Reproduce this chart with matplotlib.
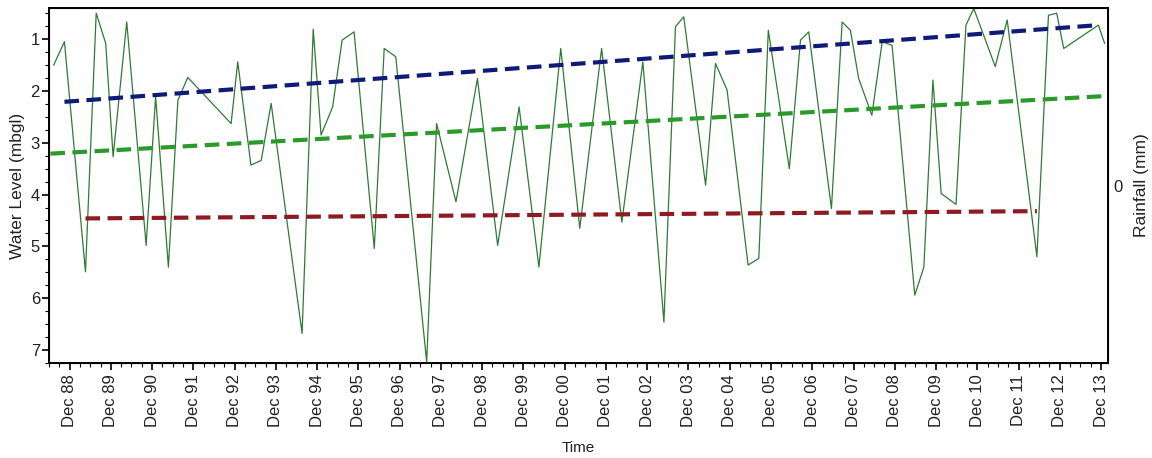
import matplotlib
matplotlib.use("Agg")
import matplotlib.pyplot as plt
import numpy as np

plt.rcParams['font.family'] = ['Liberation Sans', 'DejaVu Sans']

# water level readings (decimal year, metres below ground level)
years = [1988.53, 1988.79, 1989.30, 1989.56, 1989.79, 1989.97, 1990.30, 1990.77,
         1991.00, 1991.31, 1991.54, 1991.78, 1992.83, 1992.99, 1993.31, 1993.56,
         1993.80, 1994.55, 1994.82, 1995.01, 1995.29, 1995.52, 1995.81, 1996.30,
         1996.54, 1996.82, 1997.57, 1997.81, 1998.28, 1998.80, 1999.29, 1999.81,
         2000.29, 2000.82, 2001.28, 2001.81, 2002.30, 2002.81, 2003.32, 2003.60,
         2003.80, 2004.33, 2004.57, 2004.85, 2005.36, 2005.62, 2005.85, 2006.36,
         2006.63, 2006.83, 2007.38, 2007.64, 2007.84, 2008.04, 2008.36, 2008.61,
         2008.85, 2009.40, 2009.62, 2009.84, 2010.04, 2010.40, 2010.64, 2010.83,
         2011.35, 2011.64, 2012.36, 2012.64, 2012.84, 2013.01, 2013.85, 2014.00]
levels = [1.50, 1.05, 5.49, 0.50, 1.08, 3.27, 0.67, 4.98,
          2.11, 5.40, 2.18, 1.74, 2.63, 1.44, 3.43, 3.34,
          2.24, 6.68, 0.81, 2.85, 2.31, 1.02, 0.86, 5.04,
          1.18, 1.34, 7.23, 2.63, 4.14, 1.76, 4.98, 2.31,
          5.40, 1.18, 4.65, 1.18, 4.53, 1.44, 6.46, 0.76,
          0.57, 3.82, 1.47, 1.98, 5.36, 5.23, 0.83, 3.50,
          1.02, 0.86, 4.27, 0.67, 0.83, 1.76, 2.47, 1.05,
          1.12, 5.94, 5.40, 1.79, 3.98, 4.19, 0.73, 0.41,
          1.53, 0.63, 5.20, 0.54, 0.50, 1.18, 0.73, 1.08]

# trend lines (start/end)
max_trend_x = [1988.79, 2013.85]
max_trend_y = [2.21, 0.73]
mean_trend_x = [1988.45, 2014.00]
mean_trend_y = [3.21, 2.10]
min_trend_x = [1989.30, 2012.36]
min_trend_y = [4.46, 4.32]

tick_years = list(range(1988, 2014))
tick_labels = ["Dec %02d" % (y % 100) for y in tick_years]

fig = plt.figure(figsize=(11.52, 4.58), dpi=100)
ax = fig.add_axes([0.0425, 0.2074, 0.9193, 0.7751])

ax.plot(years, levels, color='#2f7a35', lw=0.9, zorder=3)
ax.plot(max_trend_x, max_trend_y, color='#101a78', lw=3, dashes=(3.5, 1.8), zorder=4)
ax.plot(mean_trend_x, mean_trend_y, color='#2a9a2a', lw=3, dashes=(3.5, 1.8), zorder=4)
ax.plot(min_trend_x, min_trend_y, color='#8e1a24', lw=3, dashes=(3.5, 1.8), zorder=4)

ax.set_xlim(1988.448, 2014.083)
ax.set_ylim(7.25, 0.40)

xt = np.array(tick_years) + 0.915
ax.set_xticks(xt)
ax.set_xticklabels(tick_labels, rotation=90, fontsize=12, color='#222222')
ax.set_xticks(np.arange(1988.415, 2014.1, 0.25), minor=True)
ax.set_yticks([1, 2, 3, 4, 5, 6, 7])
ax.set_yticks(np.arange(0.5, 7.3, 0.25), minor=True)
ax.tick_params(axis='y', labelsize=12, labelcolor='#222222', pad=1.5)
ax.tick_params(axis='x', pad=3)
ax.tick_params(which='major', length=5, width=1.2, direction='out')
ax.tick_params(which='minor', length=3, width=0.8, direction='out')

ax.set_xlabel('Time', fontsize=11, labelpad=10, color='#222222')
ax.set_ylabel('Water Level (mbgl)', fontsize=12.5, labelpad=4, color='#222222')

for s in ax.spines.values():
    s.set_linewidth(1.4)

ax2 = ax.twinx()
ax2.set_ylim(-1, 1)
ax2.set_yticks([0])
ax2.tick_params(axis='y', length=0, labelsize=12, pad=4, labelcolor='#222222')
ax2.set_ylabel('Rainfall (mm)', fontsize=12.5, rotation=90, labelpad=8, color='#222222')

fig.savefig('out.png', dpi=100)
